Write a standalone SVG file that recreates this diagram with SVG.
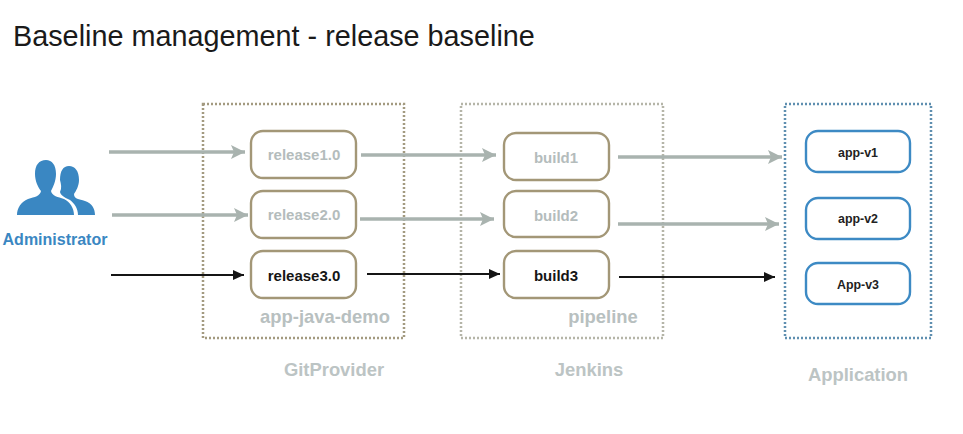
<svg xmlns="http://www.w3.org/2000/svg" width="963" height="434" viewBox="0 0 963 434">
<style>
text{font-family:"Liberation Sans",Arial,sans-serif}
.title{font-size:28.8px;fill:#1a1a1a}
.grp{fill:none;stroke:#a39a80;stroke-width:2.5;stroke-dasharray:2 2}
.grpj{fill:none;stroke:#b5b5a8;stroke-width:2.5;stroke-dasharray:2 2}
.grpa{fill:none;stroke:#5f8fb0;stroke-width:2.5;stroke-dasharray:2 2}
.n{fill:#fff;stroke:#a39777;stroke-width:2.4}
.b{fill:#fff;stroke:#3d8ac4;stroke-width:2.4}
.lbl{font-size:15px;font-weight:bold;text-anchor:middle;fill:#b4bcbc}
.blk{fill:#151515}
.inner{font-size:18.4px;font-weight:bold;text-anchor:middle;fill:#b8c0c0}
.app{font-size:12.4px;font-weight:bold;text-anchor:middle;fill:#222}
.cap{font-size:18.4px;font-weight:bold;text-anchor:middle;fill:#bcc4c4}
.g{stroke:#a9b3af;stroke-width:3.4;fill:none;marker-end:url(#ag)}
.k{stroke:#151515;stroke-width:2;fill:none;marker-end:url(#ak)}
</style>
<defs>
<marker id="ag" markerUnits="userSpaceOnUse" markerWidth="16" markerHeight="16" refX="14" refY="8" orient="auto"><path d="M0 1L14 8L0 15L3 8Z" fill="#a9b3af"/></marker>
<marker id="ak" markerUnits="userSpaceOnUse" markerWidth="12" markerHeight="12" refX="11" refY="6" orient="auto"><path d="M0 1L11 6L0 11Z" fill="#151515"/></marker>
</defs>
<rect width="963" height="434" fill="#fff"/>
<text class="title" x="13" y="46">Baseline management - release baseline</text>
<g id="administrator">
<path fill="#3a87c2" d="M60 180C60 171 63 166 69 166C75 166 79 171 79 180C79 186 76 191 74 194C74 199 79 199 85 201C92 203 95 209 95 215H78C78 208 74 203 70 200C66 198 61 196 60 192C62 188 61 184 60 180Z"/>
<path fill="#3a87c2" d="M17 215C17 208 21 202 28 199C35 197 40 196 41 191C38 187 35 181 35 174C35 165 39 160 46 160C52 160 56 165 56 174C56 181 53 187 51 191C52 196 58 197 64 199C70 202 74 208 74 215Z"/>
<text x="55" y="245" font-size="16" font-weight="bold" text-anchor="middle" fill="#3a87c2">Administrator</text>
</g>
<g id="gitprovider"><rect class="grp" x="203" y="104" width="201" height="234"/><text class="inner" x="325" y="323">app-java-demo</text><text class="cap" x="334" y="376">GitProvider</text></g>
<g id="jenkins"><rect class="grpj" x="461" y="104" width="202" height="234"/><text class="inner" x="603" y="323">pipeline</text><text class="cap" x="589" y="376">Jenkins</text></g>
<g id="application"><rect class="grpa" x="785" y="104" width="146" height="234"/><text class="cap" x="858" y="381">Application</text></g>
<g id="connectors">
<path class="g" d="M109 152H245"/>
<path class="g" d="M112 215H248"/>
<path class="k" d="M111 275H244"/>
<path class="g" d="M361 155H496"/>
<path class="g" d="M360 219H494"/>
<path class="k" d="M367 274H500"/>
<path class="g" d="M618 157H782"/>
<path class="g" d="M618 224H779"/>
<path class="k" d="M619 277H775"/>
</g>
<g id="release1"><rect class="n" x="251" y="131" width="105" height="47" rx="12"/><text class="lbl" x="304" y="160">release1.0</text></g>
<g id="release2"><rect class="n" x="251" y="191" width="105" height="47" rx="12"/><text class="lbl" x="304" y="220">release2.0</text></g>
<g id="release3"><rect class="n" x="251" y="251" width="105" height="47" rx="12"/><text class="lbl blk" x="304" y="281">release3.0</text></g>
<g id="build1"><rect class="n" x="504" y="133" width="105" height="47" rx="12"/><text class="lbl" x="556" y="163">build1</text></g>
<g id="build2"><rect class="n" x="504" y="191" width="105" height="46" rx="12"/><text class="lbl" x="556" y="221">build2</text></g>
<g id="build3"><rect class="n" x="504" y="251" width="105" height="47" rx="12"/><text class="lbl blk" x="556" y="281">build3</text></g>
<g id="app1"><rect class="b" x="806" y="131" width="104" height="41" rx="12"/><text class="app" x="858" y="157">app-v1</text></g>
<g id="app2"><rect class="b" x="806" y="198" width="104" height="41" rx="12"/><text class="app" x="858" y="223">app-v2</text></g>
<g id="app3"><rect class="b" x="806" y="263" width="104" height="41" rx="12"/><text class="app" x="858" y="289">App-v3</text></g>
</svg>
